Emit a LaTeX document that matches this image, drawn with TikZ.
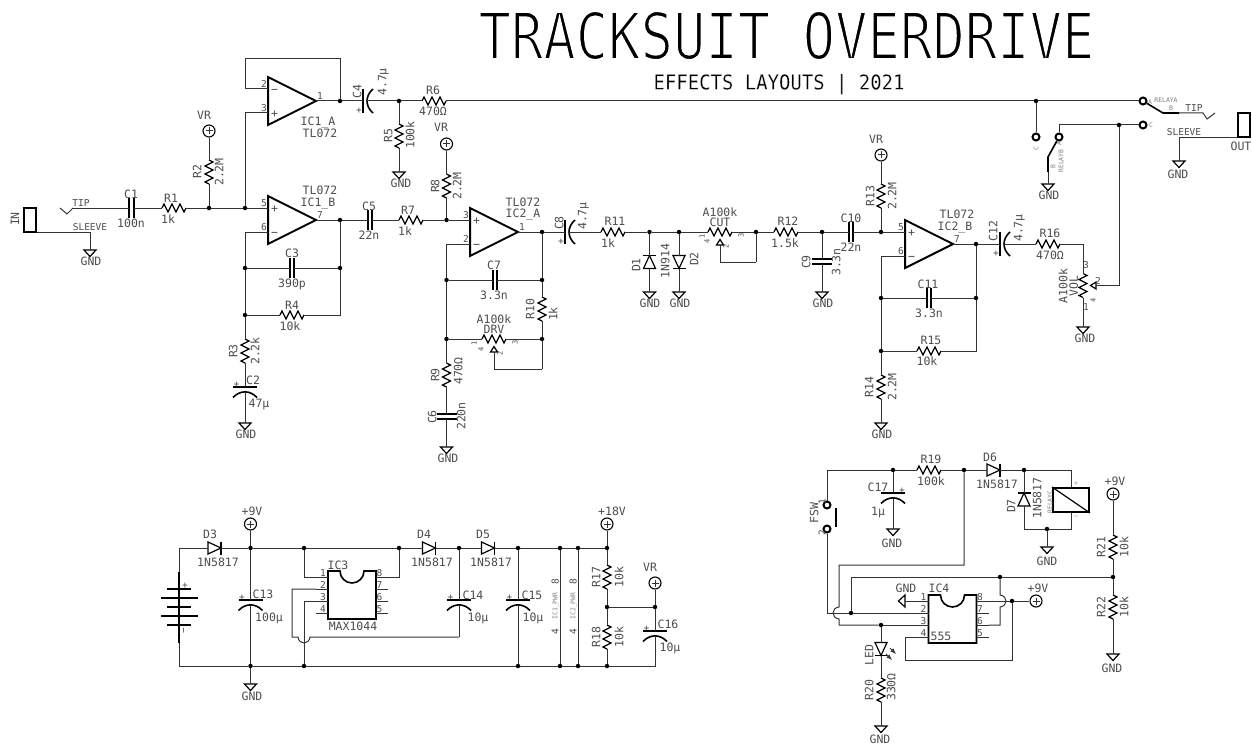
\documentclass[tikz,border=0pt]{standalone}
\usepackage{fontspec}
\usepackage{xcolor}
\usepackage{tikz}
\usetikzlibrary{positioning}
\newfontfamily\schemfont{DejaVu Sans Mono}
\newfontfamily\titlefont[FakeStretch=0.835]{DejaVu Sans Mono}
\newfontfamily\subtitlefont[FakeStretch=0.92]{DejaVu Sans Mono}
\tikzset{>=latex}
\tikzset{wire-line/.style={line width=1pt, color=black!80}}
\tikzset{part-line/.style={line width=1.2pt, color=black}}
\tikzset{thick-line/.style={line width=2pt, color=black}}
\tikzset{junction/.style={circle, fill=black, inner sep=0, minimum size=4.5pt}}
\tikzset{contact/.style={circle, draw=black, line width=2pt, fill=white, inner sep=0, minimum size=7pt}}
\tikzset{power-node/.style={circle, draw=black, line width=1.1pt, inner sep=0, minimum size=12pt}}
\tikzset{jack/.style={draw=black, line width=1.8pt, inner sep=0, minimum width=12pt, minimum height=24pt}}
\tikzset{part-text/.style={inner sep=0, text height=8.5pt, text depth=0pt, text=black!70, font=\schemfont\fontsize{11.5}{12}\selectfont}}
\tikzset{part-textv/.style={part-text, rotate=90}}
\tikzset{pin-text/.style={inner sep=0, text height=7pt, text depth=0pt, text=black!70, font=\schemfont\fontsize{9.5}{10}\selectfont}}
\tikzset{pin-textv/.style={pin-text, rotate=90}}
\tikzset{mark-textv/.style={pin-textv, text height=5pt, font=\schemfont\fontsize{7}{7}\selectfont}}
\tikzset{tiny-text/.style={inner sep=0, text height=4.5pt, text depth=0pt, text=black!50, font=\schemfont\fontsize{6.4}{7}\selectfont}}
\tikzset{tiny-textv/.style={tiny-text, rotate=90}}
\tikzset{title-text/.style={inner sep=0, text height=47pt, text depth=0pt, text=black, font=\titlefont\fontsize{64.5}{66}\selectfont}}
\tikzset{subtitle-text/.style={inner sep=0, text height=15pt, text depth=0pt, text=black, font=\subtitlefont\fontsize{20.6}{22}\selectfont}}
% white outline, leaves the heavy letters thinner
\newcommand{\thinned}[2]{\special{pdf:code 2 Tr #1 w 1 1 1 RG}#2\special{pdf:code 0 Tr 0 0 0 RG}}
\newcommand{\zigzag}{
    (-12,0) -- (-10,-4) -- (-6,4) -- (-2,-4) -- (2,4) -- (6,-4) -- (10,4) -- (12,0)
}
% resistors: name, centre, name place, value, value place
\newcommand{\resh}[5]{
    \begin{scope}[shift={(#2)}]
        \coordinate (#1a) at (-12,0);
        \coordinate (#1b) at (12,0);
        \draw[part-line] \zigzag;
    \end{scope}
    \node[part-text] (#1name) at (#3) {#1};
    \node[part-text] (#1value) at (#5) {#4};
}
\newcommand{\resv}[5]{
    \begin{scope}[shift={(#2)}, rotate=-90]
        \coordinate (#1a) at (-12,0);
        \coordinate (#1b) at (12,0);
        \draw[part-line] \zigzag;
    \end{scope}
    \node[part-textv] (#1name) at (#3) {#1};
    \node[part-textv] (#1value) at (#5) {#4};
}
% pots only carry the wiper, the texts are placed by hand
\newcommand{\pot}[3]{
    \begin{scope}[shift={(#2)}, rotate=#3]
        \coordinate (#1a) at (-12,0);
        \coordinate (#1b) at (12,0);
        \coordinate (#1w) at (0,13);
        \draw[part-line] \zigzag;
        \draw[part-line] (0,7.5) -- (3.5,13) -- (-3.5,13) -- cycle;
    \end{scope}
}
\newcommand{\caph}[5]{
    \begin{scope}[shift={(#2)}]
        \coordinate (#1a) at (-2.2,0);
        \coordinate (#1b) at (2.2,0);
        \draw[thick-line] (-2.2,-10) -- (-2.2,10);
        \draw[thick-line] (2.2,-10) -- (2.2,10);
    \end{scope}
    \node[part-text] (#1name) at (#3) {#1};
    \node[part-text] (#1value) at (#5) {#4};
}
\newcommand{\capv}[5]{
    \begin{scope}[shift={(#2)}]
        \coordinate (#1a) at (0,-2.5);
        \coordinate (#1b) at (0,2.5);
        \draw[thick-line] (-10,-2.5) -- (10,-2.5);
        \draw[thick-line] (-10,2.5) -- (10,2.5);
    \end{scope}
    \node[part-textv] (#1name) at (#3) {#1};
    \node[part-textv] (#1value) at (#5) {#4};
}
\newcommand{\pcaph}[5]{
    \begin{scope}[shift={(#2)}]
        \coordinate (#1a) at (0,0);
        \coordinate (#1b) at (4,0);
        \draw[thick-line, line width=1.6pt] (0,-12) -- (0,12);
        \draw[part-line, line width=1.6pt] (10,-12) .. controls (2,-5) and (2,5) .. (10,12);
        \node[pin-text] (#1plus) at (-4,9) {+};
    \end{scope}
    \node[part-textv] (#1name) at (#3) {#1};
    \node[part-textv] (#1value) at (#5) {#4};
}
\newcommand{\pcapv}[6][-8.5]{
    \begin{scope}[shift={(#3)}]
        \coordinate (#2a) at (0,0);
        \coordinate (#2b) at (0,5);
        \draw[thick-line, line width=1.6pt] (-12,0) -- (12,0);
        \draw[part-line, line width=1.6pt] (-12,10.5) .. controls (-5,3) and (5,3) .. (12,10.5);
        \node[pin-text] (#2plus) at (#1,-3.5) {+};
    \end{scope}
    \node[part-text] (#2name) at (#4) {#2};
    \node[part-text] (#2value) at (#6) {#5};
}
\newcommand{\diode}[3]{
    \begin{scope}[shift={(#2)}, rotate=#3]
        \coordinate (#1a) at (-6.5,0);
        \coordinate (#1b) at (6.5,0);
        \draw[part-line] (-6.5,-6) -- (6.5,0) -- (-6.5,6) -- cycle;
        \draw[thick-line, line width=1.6pt] (6.5,-6.5) -- (6.5,6.5);
    \end{scope}
}
\newcommand{\gnd}[4][0]{
    \begin{scope}[shift={(#3)}, rotate=#1]
        \coordinate (#2) at (0,0);
        \draw[part-line] (-6,0) -- (6,0) -- (0,6.5) -- cycle;
    \end{scope}
    \node[part-text] (#2text) at (#4) {GND};
}
\newcommand{\power}[4]{
    \node[power-node] (#1) at (#2) {};
    \begin{scope}[shift={(#2)}]
        \draw[wire-line] (-3.5,0) -- (3.5,0);
        \draw[wire-line] (0,-3.5) -- (0,3.5);
    \end{scope}
    \node[part-text] (#1text) at (#4) {#3};
}
\newcommand{\opamp}[7]{
    \begin{scope}[shift={(#2)}]
        \coordinate (#1top) at (0,-12);
        \coordinate (#1bot) at (0,12);
        \coordinate (#1out) at (48,0);
        \draw[thick-line] (0,-24) -- (48,0) -- (0,24) -- cycle;
        \node[pin-text] (#1dt) at (-4,-17) {#3};
        \node[part-text] (#1st) at (6.5,-12) {#4};
        \node[pin-text] (#1db) at (-4,7) {#5};
        \node[part-text] (#1sb) at (6.5,12) {#6};
        \node[pin-text] (#1do) at (52,-5) {#7};
    \end{scope}
}
% dual in line body, place given at the top left corner of the case
\newcommand{\dip}[2]{
    \begin{scope}[shift={(#2)}]
        \draw[thick-line, line width=1.6pt] (0,48) -- (0,0) -- (12,0) arc[start angle=180, end angle=360, radius=12pt] -- (48,0) -- (48,48) -- cycle;
        \coordinate (#1p1) at (-12,6);
        \coordinate (#1p2) at (-12,18);
        \coordinate (#1p3) at (-12,30);
        \coordinate (#1p4) at (-12,42);
        \coordinate (#1p5) at (60,42);
        \coordinate (#1p6) at (60,30);
        \coordinate (#1p7) at (60,18);
        \coordinate (#1p8) at (60,6);
        \draw[wire-line] (#1p1) -- (0,6);
        \draw[wire-line] (#1p2) -- (0,18);
        \draw[wire-line] (#1p3) -- (0,30);
        \draw[wire-line] (#1p4) -- (0,42);
        \draw[wire-line] (#1p5) -- (48,42);
        \draw[wire-line] (#1p6) -- (48,30);
        \draw[wire-line] (#1p7) -- (48,18);
        \draw[wire-line] (#1p8) -- (48,6);
        \node[pin-text] (#1t1) at (-5,1.5) {1};
        \node[pin-text] (#1t2) at (-5,13.5) {2};
        \node[pin-text] (#1t3) at (-5,25.5) {3};
        \node[pin-text] (#1t4) at (-5,37.5) {4};
        \node[pin-text] (#1t8) at (51.5,1.5) {8};
        \node[pin-text] (#1t7) at (51.5,13.5) {7};
        \node[pin-text] (#1t6) at (51.5,25.5) {6};
        \node[pin-text] (#1t5) at (51.5,37.5) {5};
    \end{scope}
}

\begin{document}
\begin{tikzpicture}[x=1pt, y=-1pt]
    \useasboundingbox (0,0) rectangle (1252,746);
    \node[title-text] (title) at (786.5,35.5) {\thinned{1.8}{TRACKSUIT OVERDRIVE}};
    \node[subtitle-text] (subtitle) at (779,82) {\thinned{0.15}{EFFECTS LAYOUTS | 2021}};

    % input side
    \node[jack] (injack) at (30,220) {};
    \node[part-textv] (intext) at (15,219) {IN};
    \node[pin-text] (intiptext) at (81,203) {TIP};
    \node[pin-text] (insleevetext) at (90,227) {SLEEVE};
    \gnd{gnd1}{90,250}{91,261}
    \coordinate (intip) at (73,208);
    \draw[wire-line] (intip) -- ++(-6,6) -- ++(-7,-6);
    \draw[wire-line] (injack.south east) -| (gnd1);
    \caph{C1}{131.5,208}{131,194}{100n}{131,223}
    \resh{R1}{174,208}{171,198}{1k}{168,219}
    \node[junction] (jR2) at (209,208) {};
    \node[junction] (jin) at (245,208) {};
    \resv{R2}{209,172}{197,172}{2.2M}{219,172}
    \power{vr1}{209,131}{VR}{204,115}
    \draw[wire-line] (intip) -- (C1a);
    \draw[wire-line] (C1b) -- (R1a);
    \draw[wire-line] (R1b) -- (jR2);
    \draw[wire-line] (vr1) -- (R2a);
    \draw[wire-line] (R2b) -- (jR2);
    \draw[wire-line] (jR2) -- (jin);

    % first stage
    \opamp{IC1A}{268,101}{2}{−}{3}{+}{1}
    \opamp{IC1B}{268,220}{5}{+}{6}{−}{7}
    \node[part-text] (IC1Aname) at (318,121) {IC1\_A};
    \node[part-text] (IC1Atype) at (320,133) {TL072};
    \node[part-text] (IC1Btype) at (320,190) {TL072};
    \node[part-text] (IC1Bname) at (318,202) {IC1\_B};
    \node[junction] (jA) at (340,101) {};
    \node[junction] (jB) at (340,220) {};
    \coordinate (fbleft) at (245,59);
    \coordinate (fbright) at (340,59);
    \draw[wire-line] (jin) -- (IC1Btop);
    \draw[wire-line] (jin) |- (IC1Abot);
    \draw[wire-line] (IC1Atop) -| (fbleft) -- (fbright) -- (jA);
    \draw[wire-line] (IC1Aout) -- (jA);
    \draw[wire-line] (IC1Bout) -- (jB);
    \node[junction] (jC3l) at (245,268) {};
    \node[junction] (jC3r) at (340,268) {};
    \node[junction] (jR4) at (245,315) {};
    \caph{C3}{292,268}{292,253}{390p}{292,283}
    \resh{R4}{292,315}{292,305}{10k}{290,326}
    \resv{R3}{245,351}{233,351}{2.2k}{255,351}
    \pcapv{C2}{245,387}{253,380}{47µ}{259,403}
    \gnd{gnd2}{245,423}{246,434}
    \draw[wire-line] (IC1Bbot) -| (jC3l);
    \draw[wire-line] (jC3l) -- (C3a);
    \draw[wire-line] (C3b) -- (jC3r);
    \draw[wire-line] (jC3r) -- (jB);
    \draw[wire-line] (jC3l) -- (jR4);
    \draw[wire-line] (jR4) -- (R4a);
    \draw[wire-line] (R4b) -| (jC3r);
    \draw[wire-line] (jR4) -- (R3a);
    \draw[wire-line] (R3b) -- (C2a);
    \draw[wire-line] (C2b) -- (gnd2);

    % tap to the relay
    \pcaph{C4}{363,101}{357,92}{4.7µ}{382,82}
    \node[junction] (jR5) at (399,101) {};
    \resh{R6}{434,101}{433,90}{470Ω}{433,111}
    \resv{R5}{399,136}{388,136}{100k}{410,135}
    \gnd{gnd3}{399,172}{401,183}
    \node[junction] (jrly) at (1036,101) {};
    \node[contact] (rlyA) at (1143,101) {};
    \draw[wire-line] (jA) -- (C4a);
    \draw[wire-line] (C4b) -- (jR5);
    \draw[wire-line] (jR5) -- (R6a);
    \draw[wire-line] (jR5) -- (R5a);
    \draw[wire-line] (R5b) -- (gnd3);
    \draw[wire-line] (R6b) -- (jrly);
    \draw[wire-line] (jrly) -- (rlyA);

    % second stage
    \caph{C5}{370,220}{369,206}{22n}{369,235}
    \resh{R7}{411,220}{408,210}{1k}{405,231}
    \node[junction] (jR8) at (446.5,220) {};
    \resv{R8}{446.5,186}{435,186}{2.2M}{457,186}
    \power{vr2}{446.5,144}{VR}{441,127}
    \opamp{IC2A}{470,232}{3}{+}{2}{−}{1}
    \node[part-text] (IC2Atype) at (523,202) {TL072};
    \node[part-text] (IC2Aname) at (523,213) {IC2\_A};
    \node[junction] (jC8) at (542,232) {};
    \node[junction] (jC7l) at (446.5,280) {};
    \node[junction] (jC7r) at (542,280) {};
    \node[junction] (jDl) at (446.5,339) {};
    \node[junction] (jDr) at (542,339) {};
    \caph{C7}{495,280}{494,265}{3.3n}{494,295}
    \resv{R10}{542,309}{530,309}{1k}{553,314}
    \pot{DRV}{494,339}{0}
    \node[part-text] (DRVvalue) at (494,319) {A100k};
    \node[part-text] (DRVname) at (494,329.5) {DRV};
    \node[mark-textv] (DRVt1) at (474,343) {1};
    \node[mark-textv] (DRVt4) at (481,349) {4};
    \node[mark-textv] (DRVt3) at (515,342) {3};
    \node[mark-textv] (DRVt2) at (500,353) {2};
    \coordinate (DRVloop) at (542,369);
    \resv{R9}{446.5,375}{435,375}{470Ω}{458,371}
    \capv{C6}{446.5,416.5}{432,417}{220n}{461,416}
    \gnd{gnd4}{446.5,447}{448,458}
    \draw[wire-line] (C5b) -- (R7a);
    \draw[wire-line] (jB) -- (C5a);
    \draw[wire-line] (R7b) -- (jR8);
    \draw[wire-line] (jR8) -- (IC2Atop);
    \draw[wire-line] (vr2) -- (R8a);
    \draw[wire-line] (R8b) -- (jR8);
    \draw[wire-line] (IC2Abot) -| (jC7l);
    \draw[wire-line] (IC2Aout) -- (jC8);
    \draw[wire-line] (jC7l) -- (C7a);
    \draw[wire-line] (C7b) -- (jC7r);
    \draw[wire-line] (jC8) -- (jC7r);
    \draw[wire-line] (jC7r) -- (R10a);
    \draw[wire-line] (R10b) -- (jDr);
    \draw[wire-line] (jC7l) -- (jDl);
    \draw[wire-line] (jDl) -- (DRVa);
    \draw[wire-line] (DRVb) -- (jDr);
    \draw[wire-line] (DRVw) |- (DRVloop);
    \draw[wire-line] (DRVloop) -- (jDr);
    \draw[wire-line] (jDl) -- (R9a);
    \draw[wire-line] (R9b) -- (C6a);
    \draw[wire-line] (C6b) -- (gnd4);

    % clipping and tone
    \pcaph{C8}{565,232}{559,223}{4.7µ}{582,216}
    \resh{R11}{613,232}{615,221}{1k}{608,243}
    \node[junction] (jD1) at (649.5,232) {};
    \node[junction] (jD2) at (679,232) {};
    \diode{D1}{649.5,262}{90}
    \diode{D2}{679,262}{-90}
    \node[part-textv] (D1name) at (636,265) {D1};
    \node[part-textv] (D1value) at (665,261) {1N914};
    \node[part-textv] (D2name) at (694,259) {D2};
    \gnd{gnd5}{649.5,292}{650,303}
    \gnd{gnd6}{679,292}{680,303}
    \pot{CUT}{720,232}{0}
    \node[part-text] (CUTvalue) at (720,212) {A100k};
    \node[part-text] (CUTname) at (720,222.5) {CUT};
    \node[mark-textv] (CUTt1) at (702,236) {1};
    \node[mark-textv] (CUTt4) at (707,241) {4};
    \node[mark-textv] (CUTt3) at (741,235) {3};
    \node[mark-textv] (CUTt2) at (726,246) {2};
    \node[junction] (jCUT) at (756,232) {};
    \coordinate (CUTloop) at (756,262);
    \resh{R12}{786,232}{788,221}{1.5k}{785,243}
    \node[junction] (jC9) at (822,232) {};
    \capv{C9}{822,261.5}{806,262}{3.3n}{836,262}
    \gnd{gnd7}{822,292}{823,303}
    \caph{C10}{851,232}{851,218}{22n}{851,247}
    \node[junction] (jR13) at (881,232) {};
    \draw[wire-line] (jC8) -- (C8a);
    \draw[wire-line] (C8b) -- (R11a);
    \draw[wire-line] (R11b) -- (jD1);
    \draw[wire-line] (jD1) -- (jD2);
    \draw[wire-line] (jD2) -- (CUTa);
    \draw[wire-line] (CUTb) -- (jCUT);
    \draw[wire-line] (jD1) -- (D1b);
    \draw[wire-line] (D1a) -- (gnd5);
    \draw[wire-line] (jD2) -- (D2a);
    \draw[wire-line] (D2b) -- (gnd6);
    \draw[wire-line] (CUTw) |- (CUTloop);
    \draw[wire-line] (CUTloop) -- (jCUT);
    \draw[wire-line] (jCUT) -- (R12a);
    \draw[wire-line] (R12b) -- (jC9);
    \draw[wire-line] (jC9) -- (C9a);
    \draw[wire-line] (C9b) -- (gnd7);
    \draw[wire-line] (jC9) -- (C10a);
    \draw[wire-line] (C10b) -- (jR13);

    % output stage
    \resv{R13}{881,196}{870,196}{2.2M}{892,196}
    \power{vr3}{881,155}{VR}{876,139}
    \opamp{IC2B}{905,244}{5}{+}{6}{−}{7}
    \node[part-text] (IC2Btype) at (957,214) {TL072};
    \node[part-text] (IC2Bname) at (955,226) {IC2\_B};
    \node[junction] (jC12) at (976,244) {};
    \node[junction] (jC11l) at (881,298) {};
    \node[junction] (jC11r) at (976,298) {};
    \node[junction] (jR15) at (881,351) {};
    \caph{C11}{929,298}{928,284}{3.3n}{929,313}
    \resh{R15}{929,351}{931,340}{10k}{927,361}
    \resv{R14}{881,387}{869,387}{2.2M}{892,387}
    \gnd{gnd8}{881,423}{882,434}
    \pcaph{C12}{1000,244}{993,231}{4.7µ}{1018,228}
    \resh{R16}{1048,244}{1050,233}{470Ω}{1050,255}
    \pot{VOL}{1083,285.5}{90}
    \node[part-textv] (VOLvalue) at (1063,286) {A100k};
    \node[part-textv] (VOLname) at (1073.5,286) {VOL};
    \node[pin-text] (VOLt3) at (1086,265) {3};
    \node[pin-text] (VOLt2) at (1098,281) {2};
    \node[pin-text] (VOLt1) at (1086,307) {1};
    \node[mark-textv] (VOLt4) at (1093,300) {4};
    \gnd{gnd9}{1083,327}{1085,338}
    \node[junction] (jVOL) at (1119,125) {};
    \coordinate (R16out) at (1083,244);
    \draw[wire-line] (jR13) -- (IC2Btop);
    \draw[wire-line] (vr3) -- (R13a);
    \draw[wire-line] (R13b) -- (jR13);
    \draw[wire-line] (IC2Bbot) -| (jC11l);
    \draw[wire-line] (IC2Bout) -- (jC12);
    \draw[wire-line] (jC11l) -- (C11a);
    \draw[wire-line] (C11b) -- (jC11r);
    \draw[wire-line] (jC12) -- (jC11r);
    \draw[wire-line] (jC11l) -- (jR15);
    \draw[wire-line] (jR15) -- (R15a);
    \draw[wire-line] (R15b) -| (jC11r);
    \draw[wire-line] (jR15) -- (R14a);
    \draw[wire-line] (R14b) -- (gnd8);
    \draw[wire-line] (jC12) -- (C12a);
    \draw[wire-line] (C12b) -- (R16a);
    \draw[wire-line] (R16b) -- (R16out) -- (VOLb);
    \draw[wire-line] (VOLa) -- (gnd9);
    \draw[wire-line] (VOLw) -| (jVOL);

    % relay contacts and output jack
    \node[contact] (rlyC) at (1143,125) {};
    \node[contact] (rlyD) at (1036,137) {};
    \node[contact] (rlyE) at (1059,137) {};
    \node[tiny-text] (rlyAa) at (1150,102) {A};
    \node[tiny-text] (rlyAname) at (1166,100) {RELAYA};
    \node[tiny-text] (rlyAb) at (1171,108) {B};
    \node[tiny-text] (rlyCc) at (1151,125) {C};
    \node[tiny-textv] (rlyDc) at (1036,149) {C};
    \node[tiny-textv] (rlyEa) at (1059,144) {A};
    \node[tiny-textv] (rlyEb) at (1053,167) {B};
    \node[tiny-textv] (rlyEname) at (1061,161) {RELAYB};
    \coordinate (bladeA) at (1163,113);
    \coordinate (bladeAend) at (1179,113);
    \coordinate (outtip) at (1203,113);
    \coordinate (bladeB) at (1048,157);
    \coordinate (bladeBend) at (1048,172);
    \coordinate (rlyCturn) at (1059,125);
    \gnd{gnd10}{1048,184}{1049,195}
    \gnd{gnd11}{1179,161}{1178,174}
    \node[jack] (outjack) at (1244,125) {};
    \node[part-text] (outtext) at (1241,146) {OUT};
    \node[pin-text] (outtiptext) at (1194,108) {TIP};
    \node[pin-text] (outsleevetext) at (1184,132) {SLEEVE};
    \draw[wire-line] (jrly) -- (rlyD);
    \draw[wire-line] (rlyC) -- (jVOL);
    \draw[wire-line] (jVOL) -- (rlyCturn) -- (rlyE);
    \draw[part-line, line width=1.6pt] (rlyA) -- (bladeA) -- (bladeAend);
    \draw[part-line, line width=1.6pt] (rlyE) -- (bladeB) -- (bladeBend);
    \draw[wire-line] (bladeBend) -- (gnd10);
    \draw[wire-line] (bladeAend) -- (outtip) -- ++(4,6) -- ++(8,-6);
    \draw[wire-line] (outjack.south west) -| (gnd11);

    % power supply
    \coordinate (battop) at (179,572);
    \coordinate (batbot) at (179,643);
    \draw[thick-line] (battop) -- (batbot);
    \draw[part-line, line width=1.6pt] (167,589) -- (191,589);
    \draw[part-line, line width=1.6pt] (161,598) -- (198,598);
    \draw[part-line, line width=1.6pt] (167,607) -- (191,607);
    \draw[part-line, line width=1.6pt] (161,616) -- (198,616);
    \draw[part-line, line width=1.6pt] (167,625) -- (191,625);
    \node[pin-text] (batplus) at (185,585) {+};
    \node[pin-textv] (batminus) at (183,631) {−};
    \diode{D3}{214.5,548}{0}
    \node[part-text] (D3name) at (210,534) {D3};
    \node[part-text] (D3value) at (218,562) {1N5817};
    \node[junction] (jt1) at (250.5,548) {};
    \node[junction] (jt2) at (304,548) {};
    \node[junction] (jt3) at (399,548) {};
    \node[junction] (jt4) at (459,548) {};
    \node[junction] (jt5) at (518,548) {};
    \node[junction] (jt6) at (560,548) {};
    \node[junction] (jt7) at (578,548) {};
    \node[junction] (jt8) at (607,548) {};
    \node[junction] (jb1) at (250.5,666) {};
    \node[junction] (jb2) at (304,666) {};
    \node[junction] (jb5) at (518,666) {};
    \node[junction] (jb6) at (560,666) {};
    \node[junction] (jb7) at (578,666) {};
    \node[junction] (jb8) at (607,666) {};
    \power{p9a}{250.5,524}{+9V}{252,511}
    \pcapv{C13}{250.5,600}{263,594}{100µ}{269,617}
    \gnd{gnd12}{250.5,684}{252,696}
    \dip{IC3}{328,571}
    \node[part-text] (IC3name) at (338,565) {IC3};
    \node[part-text] (IC3type) at (353,626) {MAX1044};
    \diode{D4}{429,548}{0}
    \node[part-text] (D4name) at (424,534) {D4};
    \node[part-text] (D4value) at (432,562) {1N5817};
    \diode{D5}{488,548}{0}
    \node[part-text] (D5name) at (483,534) {D5};
    \node[part-text] (D5value) at (491,562) {1N5817};
    \pcapv{C14}{459,600}{473,595}{10µ}{478,617}
    \pcapv{C15}{518,600}{532,595}{10µ}{533,617}
    \coordinate (hopleft) at (292,637);
    \coordinate (hopa) at (298,637);
    \coordinate (hopb) at (310,637);
    \coordinate (C14foot) at (459,637);
    \draw[wire-line] (D3a) -| (battop);
    \draw[wire-line] (batbot) |- (jb1);
    \draw[wire-line] (D3b) -- (jt1);
    \draw[wire-line] (p9a) -- (jt1);
    \draw[wire-line] (jt1) -- (jt2);
    \draw[wire-line] (jt2) -- (jt3);
    \draw[wire-line] (jt3) -- (D4a);
    \draw[wire-line] (D4b) -- (jt4);
    \draw[wire-line] (jt4) -- (D5a);
    \draw[wire-line] (D5b) -- (jt5);
    \draw[wire-line] (jt5) -- (jt6);
    \draw[wire-line] (jt6) -- (jt7);
    \draw[wire-line] (jt7) -- (jt8);
    \draw[wire-line] (jt1) -- (C13a);
    \draw[wire-line] (C13b) -- (jb1);
    \draw[wire-line] (jb1) -- (gnd12);
    \draw[wire-line] (jb1) -- (jb2);
    \draw[wire-line] (jb2) -- (jb5);
    \draw[wire-line] (jb5) -- (jb6);
    \draw[wire-line] (jb6) -- (jb7);
    \draw[wire-line] (jb7) -- (jb8);
    \draw[wire-line] (jt2) |- (IC3p1);
    \draw[wire-line] (jt3) |- (IC3p8);
    \draw[wire-line] (IC3p2) -| (hopleft) -- (hopa) .. controls +(1,8) and +(-1,8) .. (hopb) -- (C14foot);
    \draw[wire-line] (IC3p3) -| (jb2);
    \draw[wire-line] (jt4) -- (C14a);
    \draw[wire-line] (C14b) -- (C14foot);
    \draw[wire-line] (jt5) -- (C15a);
    \draw[wire-line] (C15b) -- (jb5);

    % op amp power pins and the divider
    \draw[wire-line] (jt6) -- (jb6);
    \draw[wire-line] (jt7) -- (jb7);
    \node[pin-textv] (IC1p8) at (555,582) {8};
    \node[pin-textv] (IC1p4) at (555,632) {4};
    \node[tiny-textv] (IC1pwr) at (555,606) {IC1\_PWR};
    \node[pin-textv] (IC2p8) at (573,582) {8};
    \node[pin-textv] (IC2p4) at (573,632) {4};
    \node[tiny-textv] (IC2pwr) at (573,606) {IC2\_PWR};
    \power{p18}{607,524}{+18V}{612,511}
    \resv{R17}{607,577}{596,577}{10k}{619,577}
    \resv{R18}{607,637}{596,637}{10k}{619,637}
    \node[junction] (jVRl) at (607,607) {};
    \node[junction] (jVRr) at (655,607) {};
    \power{vr4}{655,583}{VR}{650,567}
    \pcapv{C16}{655,631}{668,624}{10µ}{670,647}
    \coordinate (C16foot) at (655,666);
    \draw[wire-line] (p18) -- (jt8);
    \draw[wire-line] (jt8) -- (R17a);
    \draw[wire-line] (R17b) -- (jVRl);
    \draw[wire-line] (jVRl) -- (R18a);
    \draw[wire-line] (R18b) -- (jb8);
    \draw[wire-line] (jVRl) -- (jVRr);
    \draw[wire-line] (vr4) -- (jVRr);
    \draw[wire-line] (jVRr) -- (C16a);
    \draw[wire-line] (C16b) -- (C16foot) -- (jb8);

    % footswitch and relay coil
    \node[contact] (fswa) at (827,505) {};
    \node[contact] (fswb) at (827,529) {};
    \coordinate (fswbara) at (836,508);
    \coordinate (fswbarb) at (836,527);
    \draw[thick-line] (fswbara) -- (fswbarb);
    \node[part-textv] (FSWname) at (814,513) {FSW};
    \node[pin-textv] (fswt1) at (822,502) {1};
    \node[pin-textv] (fswt2) at (822,533) {2};
    \coordinate (fswtop) at (827,470);
    \node[junction] (jC17) at (893,470) {};
    \node[junction] (jR19) at (964,470) {};
    \node[junction] (jD7) at (1024,470) {};
    \pcapv[9]{C17}{893,493}{878,487}{1µ}{878,511}
    \gnd{gnd13}{893,529}{892,543}
    \resh{R19}{929,470}{931,459}{100k}{931,481}
    \diode{D6}{993.5,470}{0}
    \node[part-text] (D6name) at (990,457) {D6};
    \node[part-text] (D6value) at (997,484) {1N5817};
    \diode{D7}{1024,499.5}{90}
    \node[part-textv] (D7name) at (1011,506) {D7};
    \node[part-textv] (D7value) at (1037,498) {1N5817};
    \node[draw=black, line width=2pt, inner sep=0, minimum width=36pt, minimum height=24pt] (coil) at (1071,500) {};
    \draw[part-line] (coil.north west) -- (coil.south east);
    \node[tiny-text] (coilplus) at (1076,483) {+};
    \node[tiny-text] (coilminus) at (1076,516) {−};
    \node[tiny-textv] (coilname) at (1050,502) {RELAYC};
    \coordinate (coiltop) at (1071,470);
    \coordinate (coilbot) at (1071,529);
    \coordinate (D7bot) at (1024,529);
    \node[junction] (jcoil) at (1047,529) {};
    \gnd{gnd14}{1047,547}{1047,561}
    \draw[wire-line] (fswa) -- (fswtop) -- (jC17);
    \draw[wire-line] (jC17) -- (R19a);
    \draw[wire-line] (R19b) -- (jR19);
    \draw[wire-line] (jR19) -- (D6a);
    \draw[wire-line] (D6b) -- (jD7);
    \draw[wire-line] (jD7) -- (coiltop) -- (coil.north);
    \draw[wire-line] (jD7) -- (D7b);
    \draw[wire-line] (D7a) -- (D7bot) -- (jcoil);
    \draw[wire-line] (jcoil) -- (coilbot) -- (coil.south);
    \draw[wire-line] (jcoil) -- (gnd14);
    \draw[wire-line] (jC17) -- (C17a);
    \draw[wire-line] (C17b) -- (gnd13);

    % timer
    \dip{IC4}{928.5,595}
    \node[part-text] (IC4name) at (939,588) {IC4};
    \node[part-text] (IC4type) at (941,636) {555};
    \gnd[-90]{gnd15}{905,601}{906,588}
    \power{p9b}{1036,601}{+9V}{1038,588}
    \node[junction] (jrstl) at (851,613) {};
    \coordinate (jrstt) at (851,577);
    \coordinate (fswturn) at (827,613);
    \coordinate (hopca) at (839,607);
    \coordinate (hopcb) at (839,619);
    \coordinate (topturn) at (839,565);
    \coordinate (topdrop) at (964,565);
    \coordinate (ctrlturn) at (839,625);
    \node[junction] (jLED) at (881,625) {};
    \node[junction] (jthr) at (1000,577) {};
    \node[junction] (jdiv) at (1113,577) {};
    \coordinate (hopda) at (1000,595);
    \coordinate (hopdb) at (1000,607);
    \coordinate (pin6turn) at (1000,625);
    \node[junction] (jvcc) at (1012,601) {};
    \coordinate (rstbot) at (1012,660);
    \coordinate (rstleft) at (905,660);
    \draw[wire-line] (fswb) -- (fswturn) -- (jrstl);
    \draw[wire-line] (jrstl) -- (IC4p2);
    \draw[wire-line] (jrstl) -- (jrstt) -- (jthr);
    \draw[wire-line] (jthr) -- (jdiv);
    \draw[wire-line] (jR19) -- (topdrop) -- (topturn) -- (hopca) .. controls +(-8,1) and +(-8,-1) .. (hopcb) -- (ctrlturn) -- (jLED);
    \draw[wire-line] (jLED) -- (IC4p3);
    \draw[wire-line] (gnd15) -- (IC4p1);
    \draw[wire-line] (jthr) -- (hopda) .. controls +(8,1) and +(8,-1) .. (hopdb) -- (pin6turn) -- (IC4p6);
    \draw[wire-line] (IC4p8) -- (jvcc);
    \draw[wire-line] (jvcc) -- (p9b);
    \draw[wire-line] (jvcc) -- (rstbot) -- (rstleft);
    \draw[wire-line] (rstleft) |- (IC4p4);
    \diode{LED}{881,649}{-90}
    \node[part-textv] (LEDname) at (869,655) {LED};
    \draw[wire-line, ->] (890,648) -- (896,654);
    \draw[wire-line, ->] (886,654) -- (892,660);
    \resv{R20}{881,690}{869,690}{330Ω}{891,687}
    \gnd{gnd16}{881,726}{880,739}
    \draw[wire-line] (jLED) -- (LEDa);
    \draw[wire-line] (LEDb) -- (R20a);
    \draw[wire-line] (R20b) -- (gnd16);

    % right divider
    \power{p9c}{1113,494}{+9V}{1115,481}
    \resv{R21}{1113,547}{1101,547}{10k}{1124,547}
    \resv{R22}{1113,607}{1101,607}{10k}{1124,607}
    \gnd{gnd17}{1113,654}{1112,668}
    \draw[wire-line] (p9c) -- (R21a);
    \draw[wire-line] (R21b) -- (jdiv);
    \draw[wire-line] (jdiv) -- (R22a);
    \draw[wire-line] (R22b) -- (gnd17);
\end{tikzpicture}
\end{document}
